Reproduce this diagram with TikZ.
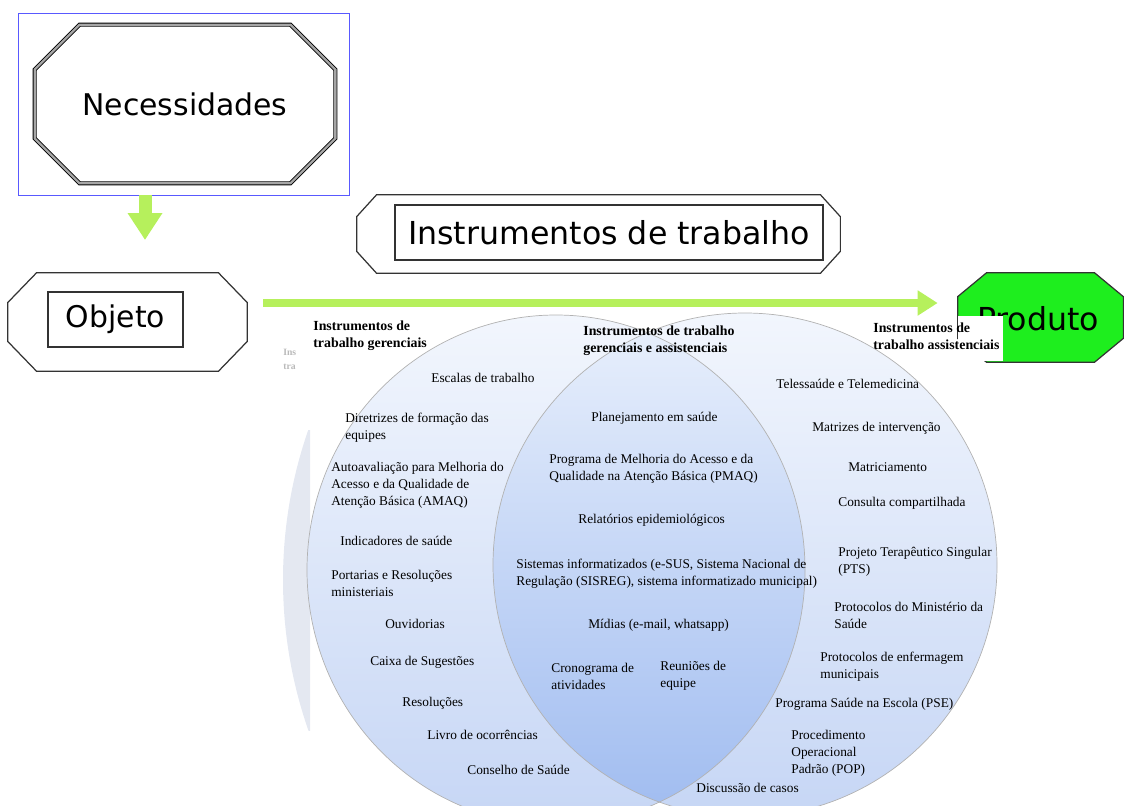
\documentclass[tikz,border=0pt]{standalone}
\usepackage{fontspec}
\setmainfont{Liberation Serif}
\newfontfamily\comic{DejaVu Sans}
\usetikzlibrary{arrows.meta}
\newdimen\px \px=0.02cm
\definecolor{setagreen}{RGB}{182,240,92}
\definecolor{prodgreen}{RGB}{30,238,30}
\definecolor{venntop}{RGB}{242,246,253}
\definecolor{vennbot}{RGB}{198,214,245}
\definecolor{lenstop}{RGB}{233,240,252}
\definecolor{lensbot}{RGB}{160,188,240}
\definecolor{fantasmacor}{RGB}{228,232,241}
% octagon round a node: [style]{node}{cut x}{cut y}
\newcommand{\octagon}[4][]{%
  \draw[#1] ([xshift=#3]#2.north west) -- ([xshift=-#3]#2.north east)
    -- ([yshift=-#4]#2.north east) -- ([yshift=#4]#2.south east)
    -- ([xshift=-#3]#2.south east) -- ([xshift=#3]#2.south west)
    -- ([yshift=#4]#2.south west) -- ([yshift=-#4]#2.north west) -- cycle;}

\begin{document}
\begin{tikzpicture}[x=0.02cm, y=-0.02cm,
        txt/.style={font=\fontsize{7.6}{9.7}\selectfont, inner sep=0, align=left, anchor=west},
        hdr/.style={txt, font=\fontsize{7.9}{9.7}\selectfont\bfseries},
        rotulo/.style={font=\comic\fontsize{17}{20}\selectfont, inner sep=0},
        moldura/.style={line width=0.7pt, draw=black!80},
        seta/.style={draw=setagreen, line width=#1}]
    \useasboundingbox (0,0) rectangle (1124,805);

    % caixas de cima
    \node[draw=blue!65, line width=0.5pt, minimum width=331\px, minimum height=182\px, inner sep=0] (quadro) at (183.5,104) {};
    \node[rotulo, minimum width=300\px, minimum height=158\px] (nec) at (185,104) {Necessidades};
    \octagon[line width=0.5pt, double=gray!70, double distance=1.3pt]{nec}{45\px}{45\px}

    \node[inner sep=0, minimum width=239\px, minimum height=98\px] (obj) at (127.5,322) {};
    \octagon[moldura]{obj}{29\px}{30\px}
    \node[rotulo, moldura, draw, minimum width=135\px, minimum height=55\px] (objtxt) at (115.5,319.5) {Objeto};

    \node[inner sep=0, minimum width=483\px, minimum height=78\px] (inst) at (598.5,234) {};
    \octagon[moldura]{inst}{20\px}{22\px}
    \node[rotulo, moldura, draw, minimum width=428\px, minimum height=55\px, font=\comic\fontsize{18}{22}\selectfont] (insttxt) at (609,232.5) {Instrumentos de trabalho};

    \node[inner sep=0, minimum width=165\px, minimum height=89\px] (prod) at (1040.5,317.5) {};
    \octagon[moldura, fill=prodgreen]{prod}{29\px}{24\px}
    \node[rotulo, font=\comic\fontsize{18}{22}\selectfont] (prodtxt) at (1038,319) {Produto};

    % setas
    \coordinate (fim1) at (145,240);
    \coordinate (nivel) at (0,303);
    \draw[seta=13\px, -{Triangle[length=0.54cm, width=0.66cm]}] (quadro.south -| fim1) -- (fim1);
    \draw[seta=8\px, shorten <=16\px, shorten >=20\px, -{Triangle[length=0.4cm, width=0.48cm]}] (obj.east |- nivel) -- (prod.west |- nivel);

    % sobra de outro circulo
    \begin{scope}
        \clip (276,430) rectangle (310,730);
        \fill[fantasmacor] (739,580) circle [radius=456\px];
    \end{scope}
    \begin{scope}
        \clip (280,345) rectangle (305,378);
        \node[txt, font=\fontsize{5.5}{8}\selectfont\bfseries, text=gray!55] (fantasma) at (283,359.5) {Ins\\tra};
    \end{scope}

    % diagrama de Venn
    \shade[top color=venntop, bottom color=vennbot] (556,570) ellipse [x radius=249\px, y radius=255\px];
    \shade[top color=venntop, bottom color=vennbot] (745,565) circle [radius=252\px];
    \begin{scope}
        \clip (556,570) ellipse [x radius=249\px, y radius=255\px];
        \shade[top color=lenstop, bottom color=lensbot] (745,565) circle [radius=252\px];
    \end{scope}
    \draw[gray!60, line width=0.4pt] (556,570) ellipse [x radius=249\px, y radius=255\px];
    \draw[gray!60, line width=0.4pt] (745,565) circle [radius=252\px];

    \fill[white] (958,316) rectangle (1003,361);
    \node[hdr] (hger) at (313,335.5) {Instrumentos de\\trabalho gerenciais};
    \node[hdr] (hamb) at (583,340.5) {Instrumentos de trabalho\\gerenciais e assistenciais};
    \node[hdr] (hass) at (873,336.5) {Instrumentos de\\trabalho assistenciais};

    % gerenciais
    \node[txt] (g1) at (431,378) {Escalas de trabalho};
    \node[txt] (g2) at (345,427.5) {Diretrizes de formação das\\equipes};
    \node[txt] (g3) at (331,485) {Autoavaliação para Melhoria do\\Acesso e da Qualidade de\\Atenção Básica (AMAQ)};
    \node[txt] (g4) at (340,541) {Indicadores de saúde};
    \node[txt] (g5) at (331,583.5) {Portarias e Resoluções\\ministeriais};
    \node[txt] (g6) at (385,624) {Ouvidorias};
    \node[txt] (g7) at (370,662) {Caixa de Sugestões};
    \node[txt] (g8) at (402,703) {Resoluções};
    \node[txt] (g9) at (427,735) {Livro de ocorrências};
    \node[txt] (g10) at (467,770) {Conselho de Saúde};

    % gerenciais e assistenciais
    \node[txt] (m1) at (591,418) {Planejamento em saúde};
    \node[txt] (m2) at (549,468.5) {Programa de Melhoria do Acesso e da\\Qualidade na Atenção Básica (PMAQ)};
    \node[txt] (m3) at (578,520) {Relatórios epidemiológicos};
    \node[txt] (m4) at (516,573.5) {Sistemas informatizados (e-SUS, Sistema Nacional de\\Regulação (SISREG), sistema informatizado municipal)};
    \node[txt] (m5) at (588,625) {Mídias (e-mail, whatsapp)};
    \node[txt] (m6) at (551,676.5) {Cronograma de\\atividades};
    \node[txt] (m7) at (660,676) {Reuniões de\\equipe};

    % assistenciais
    \node[txt] (a1) at (776,384) {Telessaúde e Telemedicina};
    \node[txt] (a2) at (812,428) {Matrizes de intervenção};
    \node[txt] (a3) at (848,467) {Matriciamento};
    \node[txt] (a4) at (838,503) {Consulta compartilhada};
    \node[txt] (a5) at (838,561.5) {Projeto Terapêutico Singular\\(PTS)};
    \node[txt] (a6) at (834,615.5) {Protocolos do Ministério da\\Saúde};
    \node[txt] (a7) at (820,666.5) {Protocolos de enfermagem\\municipais};
    \node[txt] (a8) at (775,704) {Programa Saúde na Escola (PSE)};
    \node[txt] (a9) at (791,753) {Procedimento\\Operacional\\Padrão (POP)};
    \node[txt] (a10) at (696,788) {Discussão de casos};
\end{tikzpicture}
\end{document}
